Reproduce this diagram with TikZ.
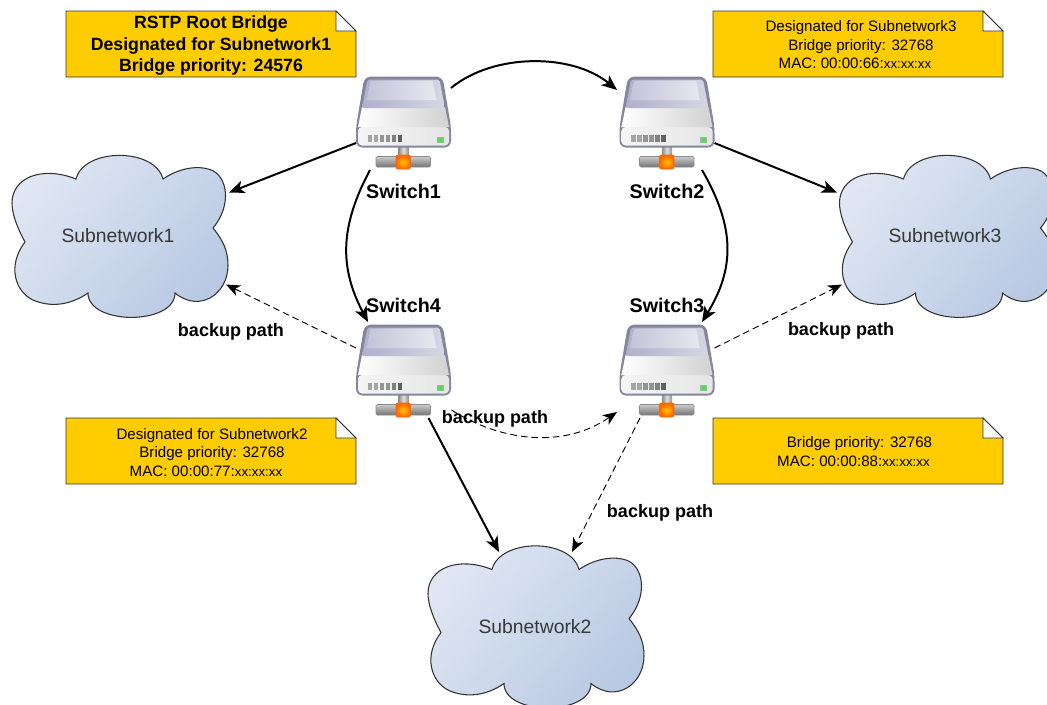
\documentclass[tikz,border=0pt]{standalone}
\usepackage{fontspec}
\setmainfont{Liberation Sans}
\usetikzlibrary{arrows.meta,calc}
\definecolor{notefill}{HTML}{FFCC00}
\definecolor{edgegray}{HTML}{85859C}
\definecolor{cloudlight}{RGB}{224,231,243}
\definecolor{clouddark}{RGB}{184,201,227}
\newcommand{\lblfont}{\fontsize{14.8pt}{17pt}\selectfont\bfseries}
\newcommand{\pathfont}{\fontsize{13.5pt}{15pt}\selectfont\bfseries}
\newcommand{\cloudfont}{\fontsize{14.5pt}{17pt}\selectfont}
\newcommand{\xxx}{{\fontsize{10pt}{10pt}\selectfont xx:xx:xx}\hspace*{9pt}}
\tikzset{
  x=.75pt,y=-.75pt,
  hold/.style={inner sep=0pt,outer sep=0pt,minimum width=71.25pt,minimum height=67.5pt},
  cloudhold/.style={inner sep=0pt,outer sep=0pt,minimum width=162pt,minimum height=121.5pt},
  lbl/.style={font=\lblfont,text=black,inner sep=0pt},
  pathlbl/.style={font=\pathfont,text=black,inner sep=0pt},
  cloudlbl/.style={font=\cloudfont,text=black!78,inner sep=0pt},
  notebig/.style={font=\fontsize{13.3pt}{16.2pt}\selectfont\bfseries,align=center,inner sep=0pt},
  notesmall/.style={font=\fontsize{11.35pt}{13.9pt}\selectfont,align=center,inner sep=0pt},
  link/.style={line width=1.5pt,-{Stealth[length=11.5pt,width=9.5pt,inset=3pt]}},
  backup/.style={line width=.7pt,dash pattern=on 5pt off 3pt,-{Stealth[length=10.5pt,width=8.5pt,inset=3pt]}},
  notebody/.pic={
    \draw[fill=notefill,draw=black!80,line width=.7pt] (0,0) -- (270,0) -- (290,20) -- (290,66) -- (0,66) -- cycle;
    \draw[fill=white,draw=black!80,line width=.7pt] (270,0) -- (290,20) -- (270,20) -- cycle;
  },
  cloudshape/.pic={
    \shadedraw[draw=black!80,line width=.8pt,left color=cloudlight,right color=clouddark,shading angle=50]
      (-44,-56.5) .. controls (-36,-88) and (35,-88) .. (43,-56.5)
      .. controls (60,-68) and (78,-70) .. (90,-66)
      .. controls (108,-60) and (112,-30) .. (93,-7.5)
      .. controls (103,5) and (108,15) .. (108,30)
      .. controls (108,58) and (80,78) .. (55,57.5)
      .. controls (55,90) and (-32,90) .. (-32,57.5)
      .. controls (-50,70) and (-70,72) .. (-87,64.5)
      .. controls (-105,56) and (-113,30) .. (-95,6.5)
      .. controls (-103,-8) and (-108,-22) .. (-108,-32.5)
      .. controls (-108,-58) and (-78,-70) .. (-44,-56.5) -- cycle;
  },
  switchicon/.pic={
    % stem
    \shade[left color=black!45,right color=black!45,middle color=black!12] (-5,24) rectangle (5,36);
    % bar
    \shade[top color=black!20,bottom color=black!55,draw=black!45,line width=.4pt,rounded corners=1pt] (-27.5,34.5) rectangle (27,45);
    % orange
    \shade[inner color=yellow!55!orange,outer color=orange!80!red,draw=orange!80!red,line width=.6pt,rounded corners=1.5pt] (-7.5,33) rectangle (7,47);
    % body
    \fill[edgegray,rounded corners=5pt] (-39,-45.5) -- (39,-45.5) -- (47.5,5) -- (47.5,25.5) -- (-47.5,25.5) -- (-47.5,5) -- cycle;
    \shade[left color=black!4,right color=black!10,rounded corners=3pt] (-45.5,5) rectangle (45.5,23.5);
    \shade[left color=white,right color=black!18] (-41.5,-15) -- (41.5,-15) -- (45.5,5) -- (-45.5,5) -- cycle;
    \shade[left color={rgb,255:red,176;green,176;blue,204},right color={rgb,255:red,214;green,214;blue,228},rounded corners=1.5pt] (-36,-42.5) -- (36,-42.5) -- (41.5,-14) -- (-41.5,-14) -- cycle;
    \shade[left color={rgb,255:red,196;green,196;blue,218},right color={rgb,255:red,232;green,232;blue,240}] (-33,-41) -- (29,-41) -- (33,-22) -- (-37,-22) -- cycle;
    % vents
    \foreach \vx/\vs in {-36/35,-30/35,-24/42,-18/42,-12/50,-6/62}{
      \fill[black!\vs] (\vx,13) rectangle (\vx+4.5,20);
    }
    % LED
    \fill[green!45!black!45] (33,15) rectangle (40,20.5);
    \fill[green!60!white!85!black] (34.5,16) rectangle (38.5,19.5);
  }
}
\begin{document}
\begin{tikzpicture}
\useasboundingbox (0,0) rectangle (1047,704);
\clip (0,0) rectangle (1047,704);
\fill[white] (0,0) rectangle (1047,704);

% clouds
\node[cloudhold] (c1) at (120,235.5) {};
\node[cloudhold] (c3) at (947.5,235.5) {};
\node[cloudhold] (c2) at (536,626) {};
\pic at (c1) {cloudshape};
\pic at (c3) {cloudshape};
\pic at (c2) {cloudshape};
\node[cloudlbl] (t1) at (118,236) {Subnetwork1};
\node[cloudlbl] (t3) at (945,236) {Subnetwork3};
\node[cloudlbl] (t2) at (535,627) {Subnetwork2};

% switches
\node[hold] (s1) at (403.5,122) {};
\node[hold] (s2) at (667,122) {};
\node[hold] (s3) at (667,370) {};
\node[hold] (s4) at (403.5,370) {};
\pic at (s1) {switchicon};
\pic at (s2) {switchicon};
\pic at (s3) {switchicon};
\pic at (s4) {switchicon};

% notes
\pic at (66,11) {notebody};
\pic at (713,11) {notebody};
\pic at (66,418) {notebody};
\pic at (713,418) {notebody};
\node[notebig] (note1) at (211,45.5) {RSTP Root Bridge\\Designated for Subnetwork1\\Bridge priority: 24576};
\node[notesmall] (note2) at (861,45) {Designated for Subnetwork3\\Bridge priority: 32768\\MAC: 00:00:66:\xxx};
\node[notesmall] (note3) at (212,452.5) {Designated for Subnetwork2\\Bridge priority: 32768\\MAC: 00:00:77:\xxx};
\node[notesmall] (note4) at (859.5,451.5) {Bridge priority: 32768\\MAC: 00:00:88:\xxx};

% solid links
\draw[link] ($(s1)+(47.5,-34)$) .. controls ($(s1)+(90,-69)$) and ($(s2)+(-95,-69)$) .. ($(s2)+(-50,-32)$);
\draw[link] ($(s1)+(-47.5,21)$) -- ($(c1)+(109,-43)$);
\draw[link] ($(s2)+(47.5,21)$) -- ($(c3)+(-110.5,-43)$);
\draw[link] ($(s1)+(-33.5,48)$) .. controls ($(s1)+(-64,105)$) and ($(s4)+(-64,-102)$) .. ($(s4)+(-35.5,-48)$);
\draw[link] ($(s2)+(35,48)$) .. controls ($(s2)+(68,105)$) and ($(s3)+(68,-102)$) .. ($(s3)+(35,-48)$);
\draw[link] ($(s4)+(25,48)$) -- ($(c2)+(-37,-74)$);

% backup links
\draw[backup] ($(s4)+(-47.5,-22)$) -- ($(c1)+(106,49)$);
\draw[backup] ($(s3)+(47.5,-22)$) -- ($(c3)+(-105.5,49)$);
\draw[backup] ($(s4)+(48,40)$) .. controls ($(s4)+(95,70)$) and ($(s3)+(-105,80)$) .. ($(s3)+(-50,42)$);
\draw[backup] ($(s3)+(-27,48)$) -- ($(c2)+(36,-74)$);

% labels
\node[lbl] (n1) at (403.5,191) {Switch1};
\node[lbl] (n2) at (667,191) {Switch2};
\node[lbl] (n3) at (667,305) {Switch3};
\node[lbl] (n4) at (403.5,305) {Switch4};
\node[pathlbl] (b1) at (231,331.5) {backup path};
\node[pathlbl] (b2) at (841,330.5) {backup path};
\node[pathlbl] (b3) at (495,418.5) {backup path};
\node[pathlbl] (b4) at (660,512.5) {backup path};
\end{tikzpicture}
\end{document}
